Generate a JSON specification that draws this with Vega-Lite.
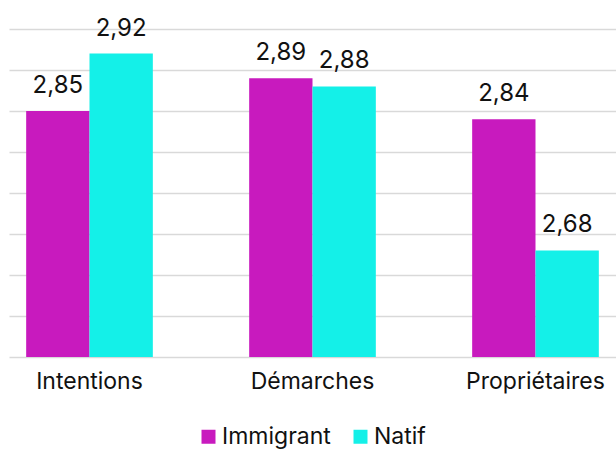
{
  "$schema": "https://vega.github.io/schema/vega-lite/v6.json",
  "width": 607,
  "height": 328,
  "autosize": {"type": "none"},
  "padding": {"left": 9, "top": 29, "right": 0, "bottom": 94},
  "background": "white",
  "config": {
    "view": {"stroke": null},
    "font": "Inter",
    "locale": {"number": {"decimal": ",", "thousands": " ", "grouping": [3], "currency": ["", " €"]}}
  },
  "data": {
    "values": [
      {"cat": "Intentions", "grp": "Immigrant", "v": 2.85},
      {"cat": "Intentions", "grp": "Natif", "v": 2.92},
      {"cat": "Démarches", "grp": "Immigrant", "v": 2.89},
      {"cat": "Démarches", "grp": "Natif", "v": 2.88},
      {"cat": "Propriétaires", "grp": "Immigrant", "v": 2.84},
      {"cat": "Propriétaires", "grp": "Natif", "v": 2.68}
    ]
  },
  "encoding": {
    "x": {
      "field": "cat", "type": "nominal",
      "sort": ["Intentions", "Démarches", "Propriétaires"],
      "scale": {"paddingInner": 0.432, "paddingOuter": 0.077},
      "axis": {"title": null, "labelAngle": 0, "domain": false, "ticks": false, "labelFontSize": 23, "labelPadding": 13, "labelColor": "#111111", "labelFont": "Inter"}
    },
    "xOffset": {"field": "grp", "type": "nominal", "sort": ["Immigrant", "Natif"]},
    "y": {
      "field": "v", "type": "quantitative",
      "scale": {"domain": [2.55, 2.95], "zero": false, "nice": false},
      "axis": {"title": null, "labels": false, "ticks": false, "domain": false,
        "values": [2.55, 2.6, 2.65, 2.7, 2.75, 2.8, 2.85, 2.9, 2.95],
        "gridColor": "#d9d9d9", "gridWidth": 1.5}
    }
  },
  "layer": [
    {
      "mark": {"type": "bar"},
      "encoding": {
        "y2": {"datum": 2.55},
        "color": {
          "field": "grp", "type": "nominal",
          "scale": {"domain": ["Immigrant", "Natif"], "range": ["#C81ABE", "#14F0E8"]},
          "legend": {"orient": "none", "legendX": 188, "legendY": 396, "padding": 0, "direction": "horizontal", "title": null, "symbolType": "square", "symbolSize": 196, "symbolStrokeWidth": 0, "labelFontSize": 23, "labelColor": "#111111", "labelOffset": 2, "columnPadding": 18}
        }
      }
    },
    {
      "mark": {"type": "text", "baseline": "alphabetic", "dy": -18, "fontSize": 24, "color": "#111111"},
      "encoding": {"text": {"field": "v", "type": "quantitative", "format": ".2f"}}
    }
  ]
}
